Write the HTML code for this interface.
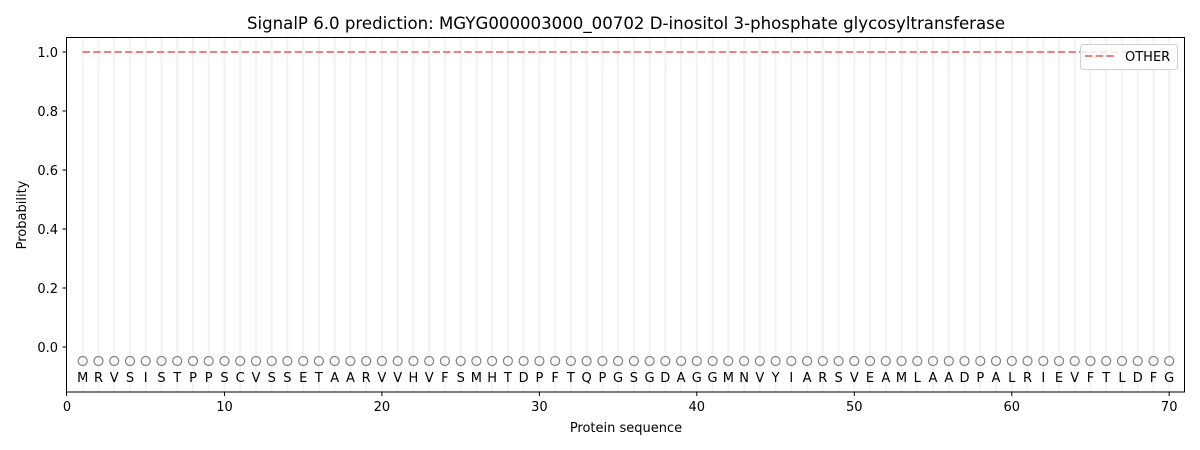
<!DOCTYPE html>
<html><head><meta charset="utf-8"><style>
html,body{margin:0;padding:0;background:#fff;}
svg{display:block;font-family:"DejaVu Sans","Liberation Sans",sans-serif;}
</style></head><body>
<svg width="1200" height="450" viewBox="0 0 1200 450" xmlns="http://www.w3.org/2000/svg">
<defs><marker id="c" markerWidth="12" markerHeight="12" refX="6" refY="6" markerUnits="userSpaceOnUse"><circle cx="6" cy="6" r="4.5" fill="none" stroke="#808080" stroke-width="1.2"/></marker></defs>
<text x="626" y="29" font-size="16.6" text-anchor="middle" fill="#000">SignalP 6.0 prediction: MGYG000003000_00702 D-inositol 3-phosphate glycosyltransferase</text>
<path stroke="#f2f2f2" stroke-width="2" d="M82.7 37V392M98.5 37V392M114.2 37V392M130 37V392M145.7 37V392M161.5 37V392M177.2 37V392M193 37V392M208.7 37V392M224.5 37V392M240.2 37V392M256 37V392M271.7 37V392M287.4 37V392M303.2 37V392M318.9 37V392M334.7 37V392M350.4 37V392M366.2 37V392M381.9 37V392M397.7 37V392M413.4 37V392M429.2 37V392M444.9 37V392M460.7 37V392M476.4 37V392M492.1 37V392M507.9 37V392M523.6 37V392M539.4 37V392M555.1 37V392M570.9 37V392M586.6 37V392M602.4 37V392M618.1 37V392M633.9 37V392M649.6 37V392M665.3 37V392M681.1 37V392M696.8 37V392M712.6 37V392M728.3 37V392M744.1 37V392M759.8 37V392M775.6 37V392M791.3 37V392M807.1 37V392M822.8 37V392M838.6 37V392M854.3 37V392M870 37V392M885.8 37V392M901.5 37V392M917.3 37V392M933 37V392M948.8 37V392M964.5 37V392M980.3 37V392M996 37V392M1011.8 37V392M1027.5 37V392M1043.3 37V392M1059 37V392M1074.7 37V392M1090.5 37V392M1106.2 37V392M1122 37V392M1137.7 37V392M1153.5 37V392M1169.2 37V392"/>
<line x1="82.7" y1="52" x2="1169.2" y2="52" stroke="#f08080" stroke-width="2" stroke-dasharray="7.4,3.2"/>
<polyline fill="none" stroke="none" marker-start="url(#c)" marker-mid="url(#c)" marker-end="url(#c)" points="82.7,361 98.5,361 114.2,361 130,361 145.7,361 161.5,361 177.2,361 193,361 208.7,361 224.5,361 240.2,361 256,361 271.7,361 287.4,361 303.2,361 318.9,361 334.7,361 350.4,361 366.2,361 381.9,361 397.7,361 413.4,361 429.2,361 444.9,361 460.7,361 476.4,361 492.1,361 507.9,361 523.6,361 539.4,361 555.1,361 570.9,361 586.6,361 602.4,361 618.1,361 633.9,361 649.6,361 665.3,361 681.1,361 696.8,361 712.6,361 728.3,361 744.1,361 759.8,361 775.6,361 791.3,361 807.1,361 822.8,361 838.6,361 854.3,361 870,361 885.8,361 901.5,361 917.3,361 933,361 948.8,361 964.5,361 980.3,361 996,361 1011.8,361 1027.5,361 1043.3,361 1059,361 1074.7,361 1090.5,361 1106.2,361 1122,361 1137.7,361 1153.5,361 1169.2,361"/>
<text y="382" font-size="13" text-anchor="middle" fill="#000" x="82.7 98.5 114.2 130 145.7 161.5 177.2 193 208.7 224.5 240.2 256 271.7 287.4 303.2 318.9 334.7 350.4 366.2 381.9 397.7 413.4 429.2 444.9 460.7 476.4 492.1 507.9 523.6 539.4 555.1 570.9 586.6 602.4 618.1 633.9 649.6 665.3 681.1 696.8 712.6 728.3 744.1 759.8 775.6 791.3 807.1 822.8 838.6 854.3 870 885.8 901.5 917.3 933 948.8 964.5 980.3 996 1011.8 1027.5 1043.3 1059 1074.7 1090.5 1106.2 1122 1137.7 1153.5 1169.2">MRVSISTPPSCVSSETAARVVHVFSMHTDPFTQPGSGDAGGMNVYIARSVEAMLAADPALRIEVFTLDFG</text>
<rect x="66.5" y="37.5" width="1118" height="354.5" fill="none" stroke="#000" stroke-width="1"/>
<g stroke="#000" stroke-width="1">
<path d="M66.5 392v4M224.5 392v4M381.9 392v4M539.4 392v4M696.8 392v4M854.3 392v4M1011.8 392v4M1169.2 392v4"/>
<path d="M66.5 347h-4M66.5 288h-4M66.5 229h-4M66.5 170h-4M66.5 111h-4M66.5 52h-4"/>
</g>
<g font-size="13" fill="#000" text-anchor="middle">
<text x="67" y="411">0</text><text x="224.5" y="411">10</text><text x="381.9" y="411">20</text><text x="539.4" y="411">30</text><text x="696.8" y="411">40</text><text x="854.3" y="411">50</text><text x="1011.8" y="411">60</text><text x="1169.2" y="411">70</text>
<text x="626" y="432">Protein sequence</text>
</g>
<g font-size="13" fill="#000" text-anchor="end">
<text x="58" y="352">0.0</text><text x="58" y="293">0.2</text><text x="58" y="234">0.4</text><text x="58" y="175">0.6</text><text x="58" y="116">0.8</text><text x="58" y="57">1.0</text>
</g>
<text transform="translate(26,215) rotate(-90)" font-size="13" text-anchor="middle" fill="#000">Probability</text>
<rect x="1080.5" y="44.5" width="97" height="25" rx="3" fill="#fff" fill-opacity="0.8" stroke="#d0d0d0"/>
<line x1="1085" y1="56" x2="1114" y2="56" stroke="#f08080" stroke-width="2" stroke-dasharray="7.4,3.2"/>
<text x="1125" y="61" font-size="13" fill="#000">OTHER</text>
</svg>
</body></html>
